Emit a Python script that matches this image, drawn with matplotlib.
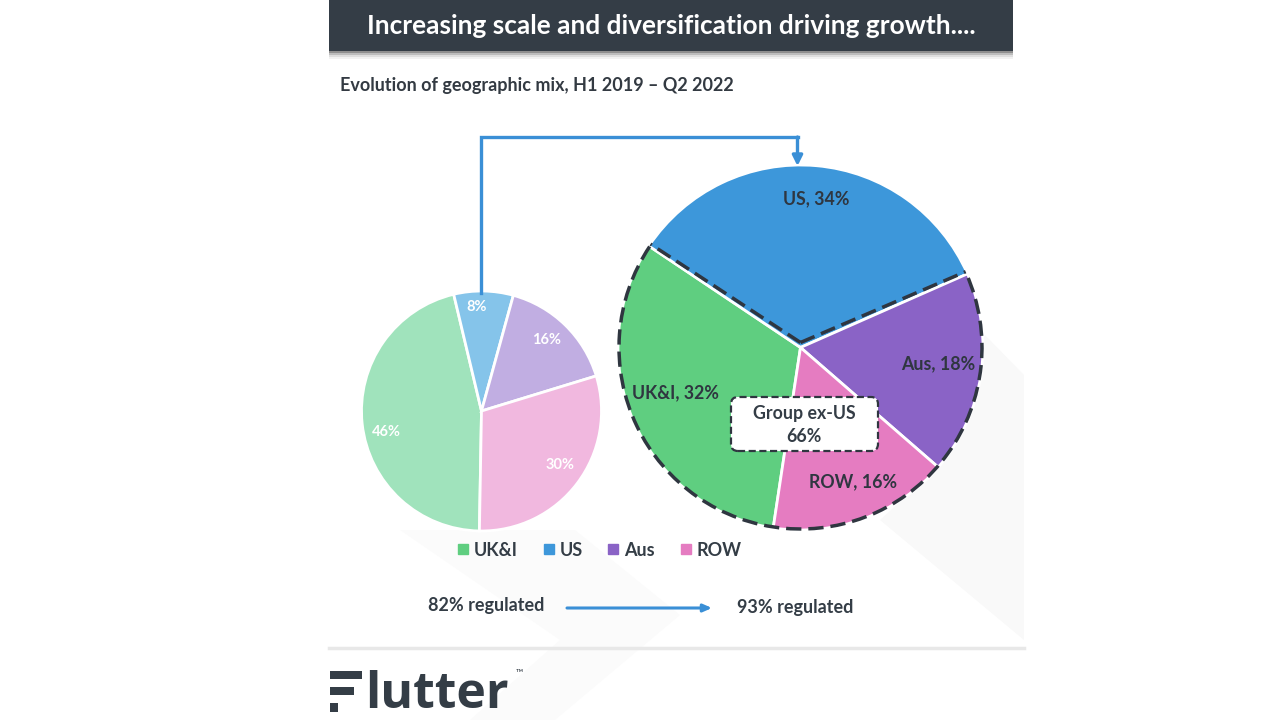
import numpy as np
import matplotlib
matplotlib.use('Agg')
import matplotlib.pyplot as plt
from matplotlib.lines import Line2D
from matplotlib.patches import Arc, FancyBboxPatch, Polygon, Rectangle

plt.rcParams['font.family'] = ['Lato', 'DejaVu Sans']

categories = ['UK&I', 'US', 'Aus', 'ROW']
share_2019 = [46, 8, 16, 30]
share_2022 = [32, 34, 18, 16]
regulated = [82, 93]

colors_2019 = ['#A0E3BC', '#85C4EA', '#C1AEE2', '#F1B8DF']
colors_2022 = ['#5FCE80', '#3D97DA', '#8A63C6', '#E57CC1']
DARK = '#343D46'
BLUE = '#3A8FD6'
DASH = (0, (4.4, 2.0))


def py(y):
    # reference pixels count from the top
    return 720 - y


fig = plt.figure(figsize=(12.8, 7.2), dpi=100)
ax = fig.add_axes([0, 0, 1, 1])

# faint watermark behind the slide
ax.add_patch(Polygon([(985, py(335)), (1024, py(375)), (1024, py(640)), (880, py(520)), (940, py(465))],
                     fc='#F9F9F9', ec='none', zorder=0))
ax.add_patch(Polygon([(400, py(530)), (575, py(530)), (680, py(615)), (555, py(720)), (470, py(720)), (560, py(640))],
                     fc='#FBFBFB', ec='none', zorder=0))

# header bar with a soft shadow
for off, shade in [(8, '#F2F2F2'), (6, '#DEDEDE'), (4, '#BDBDBD'), (2, '#8F8F8F')]:
    ax.add_patch(Rectangle((329, py(51 + off)), 684, off + 1, fc=shade, ec='none', zorder=1))
ax.add_patch(Rectangle((329, py(51)), 684, 51, fc=DARK, ec='none', zorder=2))
ax.text(671, py(26), 'Increasing scale and diversification driving growth....', color='white',
        fontsize=18.9, fontweight='bold', ha='center', va='center', zorder=3)
ax.text(340, py(85), 'Evolution of geographic mix, H1 2019 \u2013 Q2 2022', color='#333A42',
        fontsize=12.95, fontweight='bold', ha='left', va='center')

# pies, both running clockwise
left_c = (481.5, py(411))
right_c = (800.5, py(347.5))
right_r = 182.5
ax.pie(share_2019, colors=colors_2019, center=left_c, radius=120, startangle=269, counterclock=False,
       frame=True, wedgeprops={'edgecolor': 'white', 'linewidth': 2})
wedges, _ = ax.pie(share_2022, colors=colors_2022, center=right_c, radius=right_r, startangle=-98.6,
                   counterclock=False, frame=True, wedgeprops={'edgecolor': 'white', 'linewidth': 2})

# dashed outline around everything except the US slice: rim, then a V just inside the US slice
us = wedges[1]
ax.add_patch(Arc(right_c, 2 * right_r - 2, 2 * right_r - 2, theta1=us.theta2, theta2=us.theta1, ec='#2F3640',
                 lw=2.5, ls=DASH, zorder=5))
apex = (right_c[0], right_c[1] + 5)
for th in (us.theta1, us.theta2):
    end = (right_c[0] + (right_r - 2) * np.cos(np.radians(th)), right_c[1] + (right_r - 2) * np.sin(np.radians(th)) + 3)
    ax.plot([apex[0], end[0]], [apex[1], end[1]], color='#2F3640', lw=2.5, ls=DASH, zorder=5)

for txt, x, y in zip([f'{v}%' for v in share_2019], [386, 477, 547, 560], [432, 307, 340, 465]):
    ax.text(x, py(y), txt, color='white', fontsize=10.5, fontweight='bold', ha='center', va='center', zorder=6)

for cat, v, x, y in zip(categories, share_2022, [675, 816, 938, 853], [393, 199, 364, 482]):
    ax.text(x, py(y), f'{cat}, {v}%', color='#2F3640', fontsize=12.8, fontweight='bold',
            ha='center', va='center', zorder=6)

# group ex-US callout
ax.add_patch(FancyBboxPatch((731, py(451)), 147, 54, boxstyle='round,pad=0,rounding_size=7', fc='white',
                            ec='#2F3640', lw=1.6, ls=(0, (3.2, 1.6)), zorder=7))
ax.text(804, py(413), 'Group ex-US', color=DARK, fontsize=12.8, fontweight='bold', ha='center',
        va='center', zorder=8)
ax.text(804, py(437), f'{100 - share_2022[1]}%', color=DARK, fontsize=12.8, fontweight='bold',
        ha='center', va='center', zorder=8)

# connector between the two US slices
ax.plot([480.5, 480.5, 797.5], [py(293), py(137), py(137)], color=BLUE, lw=2.4, solid_joinstyle='miter', zorder=4)
ax.annotate('', xy=(797.5, py(166)), xytext=(797.5, py(137)), zorder=4,
            arrowprops={'arrowstyle': '-|>,head_width=0.3,head_length=0.6', 'color': BLUE, 'lw': 2.4,
                        'shrinkA': 0, 'shrinkB': 0})

handles = [Line2D([], [], ls='none', marker='s', ms=6.5, color=c) for c in colors_2022]
ax.legend(handles, categories, loc='center', bbox_to_anchor=(600 / 1280, py(550) / 720), ncols=4, frameon=False,
          handlelength=0.5, handletextpad=0.35, columnspacing=1.45, labelcolor=DARK,
          prop={'size': 13, 'weight': 'bold'})

# regulated share
ax.text(486, py(605), f'{regulated[0]}% regulated', color=DARK, fontsize=13, fontweight='bold',
        ha='center', va='center')
ax.text(795.5, py(607), f'{regulated[1]}% regulated', color=DARK, fontsize=13, fontweight='bold',
        ha='center', va='center')
ax.annotate('', xy=(712, py(608)), xytext=(567, py(608)),
            arrowprops={'arrowstyle': '-|>,head_width=0.22,head_length=0.5', 'color': BLUE, 'lw': 2.2,
                        'shrinkA': 0, 'shrinkB': 0})

# footer rule and logo
ax.plot([329, 1024], [py(648), py(648)], color='#E8E8E8', lw=2.5, zorder=1)
for x, y, w, h in [(330, 671, 32, 8), (330, 687, 24, 8), (330, 703, 8, 9)]:
    ax.add_patch(Rectangle((x, py(y + h)), w, h, fc=DARK, ec='none'))
ax.text(365, py(708), 'lutter', color=DARK, fontsize=36, fontweight='bold', family=['Open Sans', 'DejaVu Sans'],
        ha='left', va='baseline')
ax.text(519, py(673), '\u2122', color=DARK, fontsize=7, ha='center', va='center')

ax.set_xlim(0, 1280)
ax.set_ylim(0, 720)
ax.set_aspect('auto')
ax.axis('off')

fig.savefig('out.png', dpi=100)
